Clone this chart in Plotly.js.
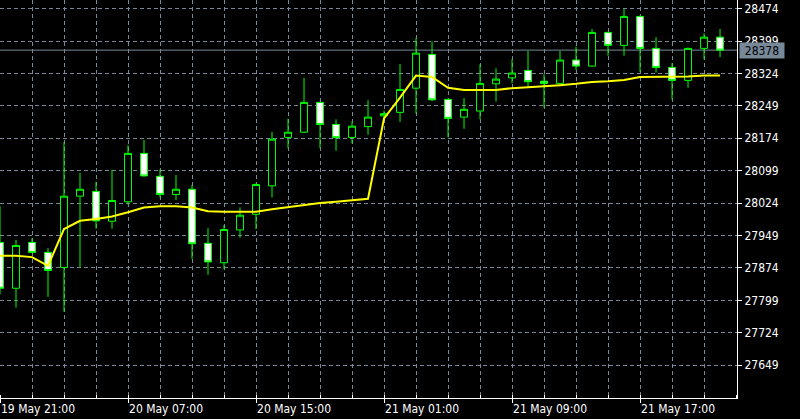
<!DOCTYPE html>
<html>
<head>
<meta charset="utf-8">
<script src="https://cdn.plot.ly/plotly-3.0.1.min.js"></script>
<style>
html,body{margin:0;padding:0;background:#000;}
#chart{width:800px;height:419px;}
</style>
</head>
<body>
<div id="chart"></div>
<script>
// Bar index (hourly bars)
const barIndex = [0,1,2,3,4,5,6,7,8,9,10,11,12,13,14,15,16,17,18,19,20,21,22,23,24,25,26,27,28,29,30,31,32,33,34,35,36,37,38,39,40,41,42,43,44,45];
const openVals  = [27933,27827,27933,27910,27875,28040,28051,27982,28027,28139,28086,28044,28056,27931,27886,27962,27998,28064,28176,28188,28257,28206,28176,28201,28226,28234,28290,28368,28264,28223,28237,28300,28314,28331,28306,28301,28355,28341,28419,28389,28456,28382,28338,28308,28382,28408];
const highVals  = [28017,27939,27943,27920,28165,28094,28073,28101,28158,28170,28102,28089,28066,27966,27973,28014,28070,28189,28219,28314,28259,28218,28213,28262,28238,28346,28406,28398,28266,28267,28345,28336,28357,28376,28322,28376,28386,28427,28421,28473,28458,28408,28348,28384,28417,28427];
const lowVals   = [27813,27782,27908,27807,27773,27875,27965,27965,28021,28085,28037,28031,27895,27858,27871,27944,27964,28037,28151,28186,28151,28145,28162,28182,28221,28212,28231,28260,28176,28196,28218,28259,28301,28293,28245,28299,28332,28340,28365,28365,28328,28326,28264,28291,28357,28362];
const closeVals = [27827,27926,27910,27868,28040,28056,27983,28030,28139,28087,28044,28056,27930,27888,27963,27996,28067,28172,28188,28257,28206,28176,28202,28223,28231,28287,28371,28263,28220,28241,28301,28311,28325,28305,28301,28355,28341,28419,28389,28456,28382,28338,28308,28382,28408,28378];
const maVals    = [27902,27902,27899,27879,27964,27983,27987,27993,28003,28014,28017,28017,28014,28005,28004,28004,28004,28010,28015,28019,28024,28027,28031,28034,28220,28268,28319,28316,28291,28286,28286,28286,28290,28292,28294,28297,28300,28304,28306,28309,28316,28316,28316,28317,28319,28319];

const xTickVals = [0,8,16,24,32,40];
const xTickText = ["19 May 21:00","20 May 07:00","20 May 15:00","21 May 01:00","21 May 09:00","21 May 17:00"];
const yTickVals = [28474,28399,28324,28249,28174,28099,28024,27949,27874,27799,27724,27649];
const lastPrice = 28378;

const FONT = "DejaVu Sans Condensed, Liberation Sans Narrow, DejaVu Sans, sans-serif";
const GRID = "#778899";

const traces = [
  {
    type: "candlestick",
    x: barIndex, open: openVals, high: highVals, low: lowVals, close: closeVals,
    increasing: {line: {color: "#00ff00", width: 1}, fillcolor: "#000000"},
    decreasing: {line: {color: "#00ff00", width: 1}, fillcolor: "#ffffff"},
    whiskerwidth: 0,
    showlegend: false,
    hoverinfo: "skip"
  },
  {
    type: "scatter", mode: "lines",
    x: barIndex, y: maVals,
    line: {color: "#ffff00", width: 2},
    showlegend: false,
    hoverinfo: "skip"
  }
];

const layout = {
  width: 800, height: 419,
  margin: {l: 0, r: 63, t: 0, b: 21, pad: 0},
  paper_bgcolor: "#000000",
  plot_bgcolor: "#000000",
  boxgap: 0.375,
  showlegend: false,
  font: {family: FONT, size: 12, color: "#ffffff"},
  xaxis: {
    range: [0, 46.06],
    rangeslider: {visible: false},
    tickmode: "array", tickvals: xTickVals, ticktext: xTickText,
    ticklabelposition: "outside right",
    ticks: "outside", ticklen: 4, tickcolor: "#ffffff", tickwidth: 1,
    showline: true, linecolor: "#ffffff", linewidth: 1,
    showgrid: true, gridcolor: GRID, griddash: "4px,3px", gridwidth: 1,
    zeroline: false,
    tickfont: {family: FONT, size: 12, color: "#ffffff"},
    minor: {tickmode: "linear", tick0: 0, dtick: 2, ticks: "inside", ticklen: 3, tickcolor: "#ffffff",
            showgrid: true, gridcolor: GRID, griddash: "4px,3px", gridwidth: 1},
    fixedrange: true
  },
  yaxis: {
    side: "right",
    range: [27573, 28494],
    tickmode: "array", tickvals: yTickVals, ticktext: yTickVals.map(String),
    ticks: "outside", ticklen: 4, tickcolor: "#ffffff", tickwidth: 1,
    showline: true, linecolor: "#ffffff", linewidth: 1,
    showgrid: true, gridcolor: GRID, griddash: "4px,3px", gridwidth: 1,
    zeroline: false,
    tickfont: {family: FONT, size: 12, color: "#ffffff"},
    fixedrange: true
  },
  shapes: [
    {type: "line", xref: "paper", x0: 0, x1: 1, yref: "y", y0: lastPrice, y1: lastPrice,
     line: {color: GRID, width: 1}, layer: "below"}
  ],
  annotations: [
    {xref: "paper", x: 1, xanchor: "left", xshift: 2, yref: "y", y: lastPrice, yanchor: "middle",
     text: String(lastPrice), showarrow: false, bgcolor: GRID, borderpad: 1, width: 42, height: 13,
     font: {family: FONT, size: 12, color: "#000000"}}
  ]
};

Plotly.newPlot("chart", traces, layout, {staticPlot: true, displayModeBar: false});
</script>
</body>
</html>
